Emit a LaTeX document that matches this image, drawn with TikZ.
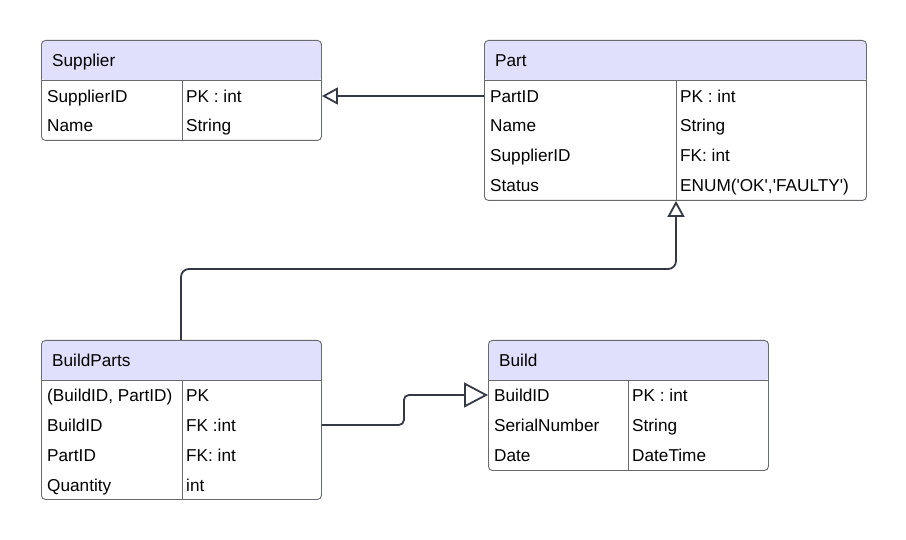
\documentclass[tikz,border=0pt]{standalone}
\usepackage{xcolor}
\usepackage{fontspec}
\setmainfont{Liberation Sans}
\usetikzlibrary{arrows.meta,positioning,calc}

\definecolor{headfill}{RGB}{224,224,252}
\definecolor{boxline}{RGB}{105,105,112}
\definecolor{linkcol}{RGB}{52,57,68}

\tikzset{
  entity/.style n args={2}{draw=boxline, line width=0.9pt, fill=white, rounded corners=4pt,
    minimum width=#1, minimum height=#2, inner sep=0pt, anchor=north west,
    path picture={\fill[headfill] (path picture bounding box.north west) rectangle ([yshift=-40pt]path picture bounding box.north east);}},
  rule/.style={draw=boxline, line width=0.9pt},
  cell/.style={anchor=west, inner sep=0pt, text height=12.5pt, text depth=0pt, font=\fontsize{17.2}{20}\selectfont},
  link/.style={draw=linkcol, line width=1.8pt}
}

\begin{document}
\begin{tikzpicture}[x=1pt, y=-1pt]
        \useasboundingbox (0,0) rectangle (906,540);

        % Tables
        \node[entity={280}{100}] (supplier) at (41,40) {};
        \node[entity={382}{160}] (part) at (484,40) {};
        \node[entity={280}{159}] (buildparts) at (41,340) {};
        \node[entity={280}{130}] (build) at (488,340) {};

        % Table lines
        \draw[rule] (41,80) -- (321,80) (182,80) -- (182,140);
        \draw[rule] (484,80) -- (866,80) (676,80) -- (676,200);
        \draw[rule] (41,380) -- (321,380) (182,380) -- (182,499);
        \draw[rule] (488,380) -- (768,380) (628,380) -- (628,470);

        % Supplier
        \node[cell] (s-head) at (52,60) {Supplier};
        \node[cell] (s-id) at (47,96) {SupplierID};
        \node[cell] (s-idt) at (186,96) {PK : int};
        \node[cell] (s-name) at (47,125) {Name};
        \node[cell] (s-namet) at (186,125) {String};

        % Part
        \node[cell] (p-head) at (495,60) {Part};
        \node[cell] (p-id) at (490,96) {PartID};
        \node[cell] (p-idt) at (680,96) {PK : int};
        \node[cell] (p-name) at (490,125) {Name};
        \node[cell] (p-namet) at (680,125) {String};
        \node[cell] (p-sid) at (490,155) {SupplierID};
        \node[cell] (p-sidt) at (680,155) {FK: int};
        \node[cell] (p-status) at (490,185) {Status};
        \node[cell] (p-statust) at (680,185) {ENUM(\textquotesingle OK\textquotesingle,\textquotesingle FAULTY\textquotesingle)};

        % BuildParts
        \node[cell] (bp-head) at (52,360) {BuildParts};
        \node[cell] (bp-key) at (47,395) {(BuildID, PartID)};
        \node[cell] (bp-keyt) at (186,395) {PK};
        \node[cell] (bp-bid) at (47,425) {BuildID};
        \node[cell] (bp-bidt) at (186,425) {FK :int};
        \node[cell] (bp-pid) at (47,455) {PartID};
        \node[cell] (bp-pidt) at (186,455) {FK: int};
        \node[cell] (bp-qty) at (47,485) {Quantity};
        \node[cell] (bp-qtyt) at (186,485) {int};

        % Build
        \node[cell] (b-head) at (499,360) {Build};
        \node[cell] (b-id) at (494,395) {BuildID};
        \node[cell] (b-idt) at (632,395) {PK : int};
        \node[cell] (b-sn) at (494,425) {SerialNumber};
        \node[cell] (b-snt) at (632,425) {String};
        \node[cell] (b-date) at (494,455) {Date};
        \node[cell] (b-datet) at (632,455) {DateTime};

        % Edges
        \draw[link, -{Triangle[open, length=16pt, width=17pt]}] (part.west |- p-id) -- (supplier.east |- p-id);
        \draw[link, rounded corners=8pt, -{Triangle[open, length=16pt, width=17pt]}]
            ([xshift=140pt]buildparts.north west) -- ++(0,-71) -| ([xshift=192pt]part.south west);
        \draw[link, rounded corners=5pt, -{Triangle[open, length=24pt, width=25pt]}]
            (buildparts.east |- bp-bid) -- ++(82,0) |- (build.west |- b-id);
    \end{tikzpicture}
\end{document}
